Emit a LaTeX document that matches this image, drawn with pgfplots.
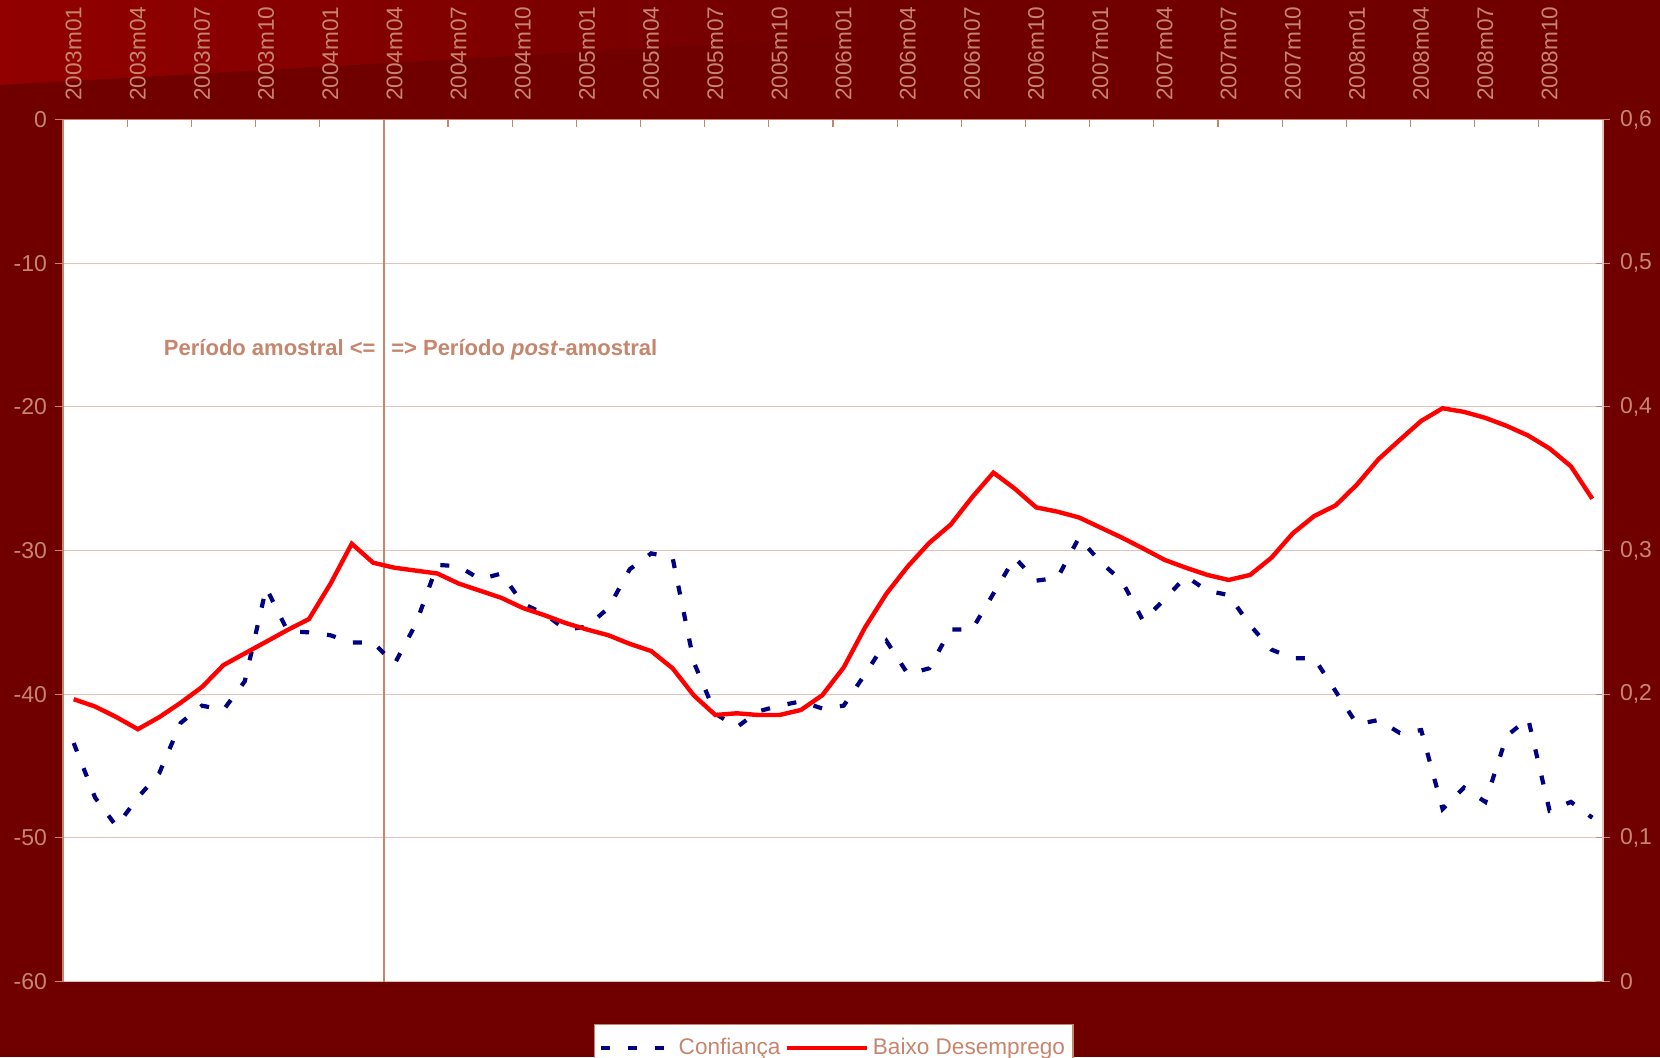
\documentclass[border=0pt]{standalone}
\usepackage{pgfplots}
\usepackage{pgfplotstable}
\pgfplotsset{compat=1.18}
\usepackage{fontspec}
\setmainfont{Liberation Sans}
\definecolor{bgred}{RGB}{112,0,0}
\definecolor{lightred}{RGB}{146,0,0}
\definecolor{tanc}{RGB}{198,134,110}
\definecolor{gridc}{RGB}{228,196,184}
\definecolor{navyb}{RGB}{0,0,128}
\definecolor{redl}{RGB}{255,0,0}
\pgfplotsset{
  shortleg/.style={legend image code/.code={\draw[##1] (0pt,0pt) -- (36pt,0pt);}},
  longleg/.style={legend image code/.code={\draw[##1] (0pt,0pt) -- (40pt,0pt);}},
}

\pgfplotstableread{
i conf
0 -43.4
1 -47.2
2 -49.2
3 -47.2
4 -45.5
5 -42.0
6 -40.8
7 -41.1
8 -39.1
9 -32.6
10 -35.6
11 -35.7
12 -35.9
13 -36.4
14 -36.4
15 -37.9
16 -35.1
17 -31.0
18 -31.1
19 -32.0
20 -31.6
21 -33.7
22 -34.4
23 -35.5
24 -35.3
25 -34.0
26 -31.3
27 -30.2
28 -30.5
29 -37.8
30 -41.35
31 -42.3
32 -41.2
33 -40.8
34 -40.5
35 -41.0
36 -40.8
37 -38.6
38 -36.3
39 -38.6
40 -38.2
41 -35.5
42 -35.5
43 -33.0
44 -30.5
45 -32.1
46 -31.9
47 -29.1
48 -30.8
49 -32.1
50 -34.9
51 -33.4
52 -31.8
53 -32.8
54 -33.1
55 -35.2
56 -36.9
57 -37.5
58 -37.5
59 -39.8
60 -42.1
61 -41.8
62 -42.7
63 -42.5
64 -48.0
65 -46.5
66 -47.5
67 -42.9
68 -41.7
69 -48.1
70 -47.5
71 -48.6
}\confdata

\pgfplotstableread{
i desemp
0 0.1965
1 0.1914
2 0.184
3 0.1756
4 0.184
5 0.194
6 0.205
7 0.2202
8 0.2284
9 0.2365
10 0.2447
11 0.2523
12 0.2767
13 0.3047
14 0.2915
15 0.288
16 0.286
17 0.284
18 0.277
19 0.272
20 0.267
21 0.260
22 0.255
23 0.2495
24 0.245
25 0.241
26 0.235
27 0.230
28 0.218
29 0.199
30 0.1855
31 0.1867
32 0.1855
33 0.1855
34 0.189
35 0.1993
36 0.2186
37 0.2465
38 0.270
39 0.289
40 0.3053
41 0.318
42 0.337
43 0.3542
44 0.343
45 0.330
46 0.327
47 0.323
48 0.316
49 0.309
50 0.3014
51 0.2935
52 0.288
53 0.283
54 0.2795
55 0.283
56 0.295
57 0.312
58 0.324
59 0.3314
60 0.346
61 0.3635
62 0.377
63 0.3902
64 0.399
65 0.3965
66 0.3923
67 0.3867
68 0.380
69 0.371
70 0.3586
71 0.336
}\desdata

\begin{document}
\begin{tikzpicture}
\useasboundingbox (0,0) rectangle (830pt,528.5pt);
\fill[bgred] (0,0) rectangle (830pt,528.5pt);
\shade[left color=lightred, right color=bgred] (0,528.5pt) -- (0,486pt) -- (440pt,511pt) -- (440pt,528.5pt) -- cycle;

\begin{axis}[
  at={(31.5pt,37.75pt)}, anchor=south west,
  scale only axis, width=770pt, height=431pt,
  xmin=-0.5, xmax=71.5, ymin=-60, ymax=0,
  axis background/.style={fill=white},
  axis x line*=top, axis y line*=left,
  axis line style={draw=tanc, line width=0.8pt},
  every tick/.style={draw=tanc, line width=0.6pt},
  major tick length=3.85pt,
  xtick align=inside, ytick align=outside,
  xtick={2.5,5.5,...,68.5}, xticklabels={},
  extra x ticks={0,3,...,69},
  extra x tick labels={2003m01,2003m04,2003m07,2003m10,2004m01,2004m04,2004m07,2004m10,2005m01,2005m04,2005m07,2005m10,2006m01,2006m04,2006m07,2006m10,2007m01,2007m04,2007m07,2007m10,2008m01,2008m04,2008m07,2008m10},
  extra x tick style={major tick length=0pt},
  xticklabel style={rotate=90, anchor=west, inner sep=0pt, text=tanc, font=\fontsize{11.3}{12}\selectfont},
  xticklabel shift=9.2pt,
  ytick={-60,-50,-40,-30,-20,-10,0},
  yticklabels={-60,-50,-40,-30,-20,-10,0},
  yticklabel style={inner sep=0pt, text=tanc, font=\fontsize{11.5}{12}\selectfont},
  yticklabel shift=4pt,
  ymajorgrids, grid style={draw=gridc, line width=0.5pt},
  clip=false,
]
\draw[tanc, line width=1pt] (axis cs:14.5,-60) -- (axis cs:14.5,0);
\addplot[navyb, line width=2.1pt, dash pattern=on 4.5pt off 9pt] table[x=i, y=conf] {\confdata};
\node[anchor=base east, inner sep=0pt, text=tanc, font=\bfseries\fontsize{11}{13}\selectfont] at (axis cs:14.13,-16.4) {Período amostral <=};
\node[anchor=base west, inner sep=0pt, text=tanc, font=\bfseries\fontsize{11}{13}\selectfont] at (axis cs:14.83,-16.4) {=> Período \textit{post}-amostral};
\end{axis}

\begin{axis}[
  at={(31.5pt,37.75pt)}, anchor=south west,
  scale only axis, width=770pt, height=431pt,
  xmin=-0.5, xmax=71.5, ymin=0, ymax=0.6,
  axis x line=none, axis y line*=right,
  axis line style={draw=gridc, line width=0.6pt},
  every tick/.style={draw=tanc, line width=0.6pt},
  major tick length=7pt, ytick align=center,
  ytick={0,0.1,0.2,0.3,0.4,0.5,0.6},
  yticklabels={0,{0,1},{0,2},{0,3},{0,4},{0,5},{0,6}},
  yticklabel style={inner sep=0pt, text=tanc, font=\fontsize{11.5}{12}\selectfont},
  yticklabel shift=4.8pt,
  legend columns=2,
  legend style={at={(0.5005,-0.0493)}, anchor=north, draw=tanc, line width=0.6pt, fill=white,
    text=tanc, font=\fontsize{11.3}{12}\selectfont, inner xsep=2pt, inner ysep=5pt,
    /tikz/every even column/.append style={column sep=0pt}},
  shortleg,
]
\addlegendimage{navyb, line width=2.1pt, dash pattern=on 4.5pt off 9pt}
\addlegendentry{Confiança}
\addplot[redl, line width=2.2pt, longleg] table[x=i, y=desemp] {\desdata};
\addlegendentry{Baixo Desemprego}
\end{axis}
\end{tikzpicture}
\end{document}
